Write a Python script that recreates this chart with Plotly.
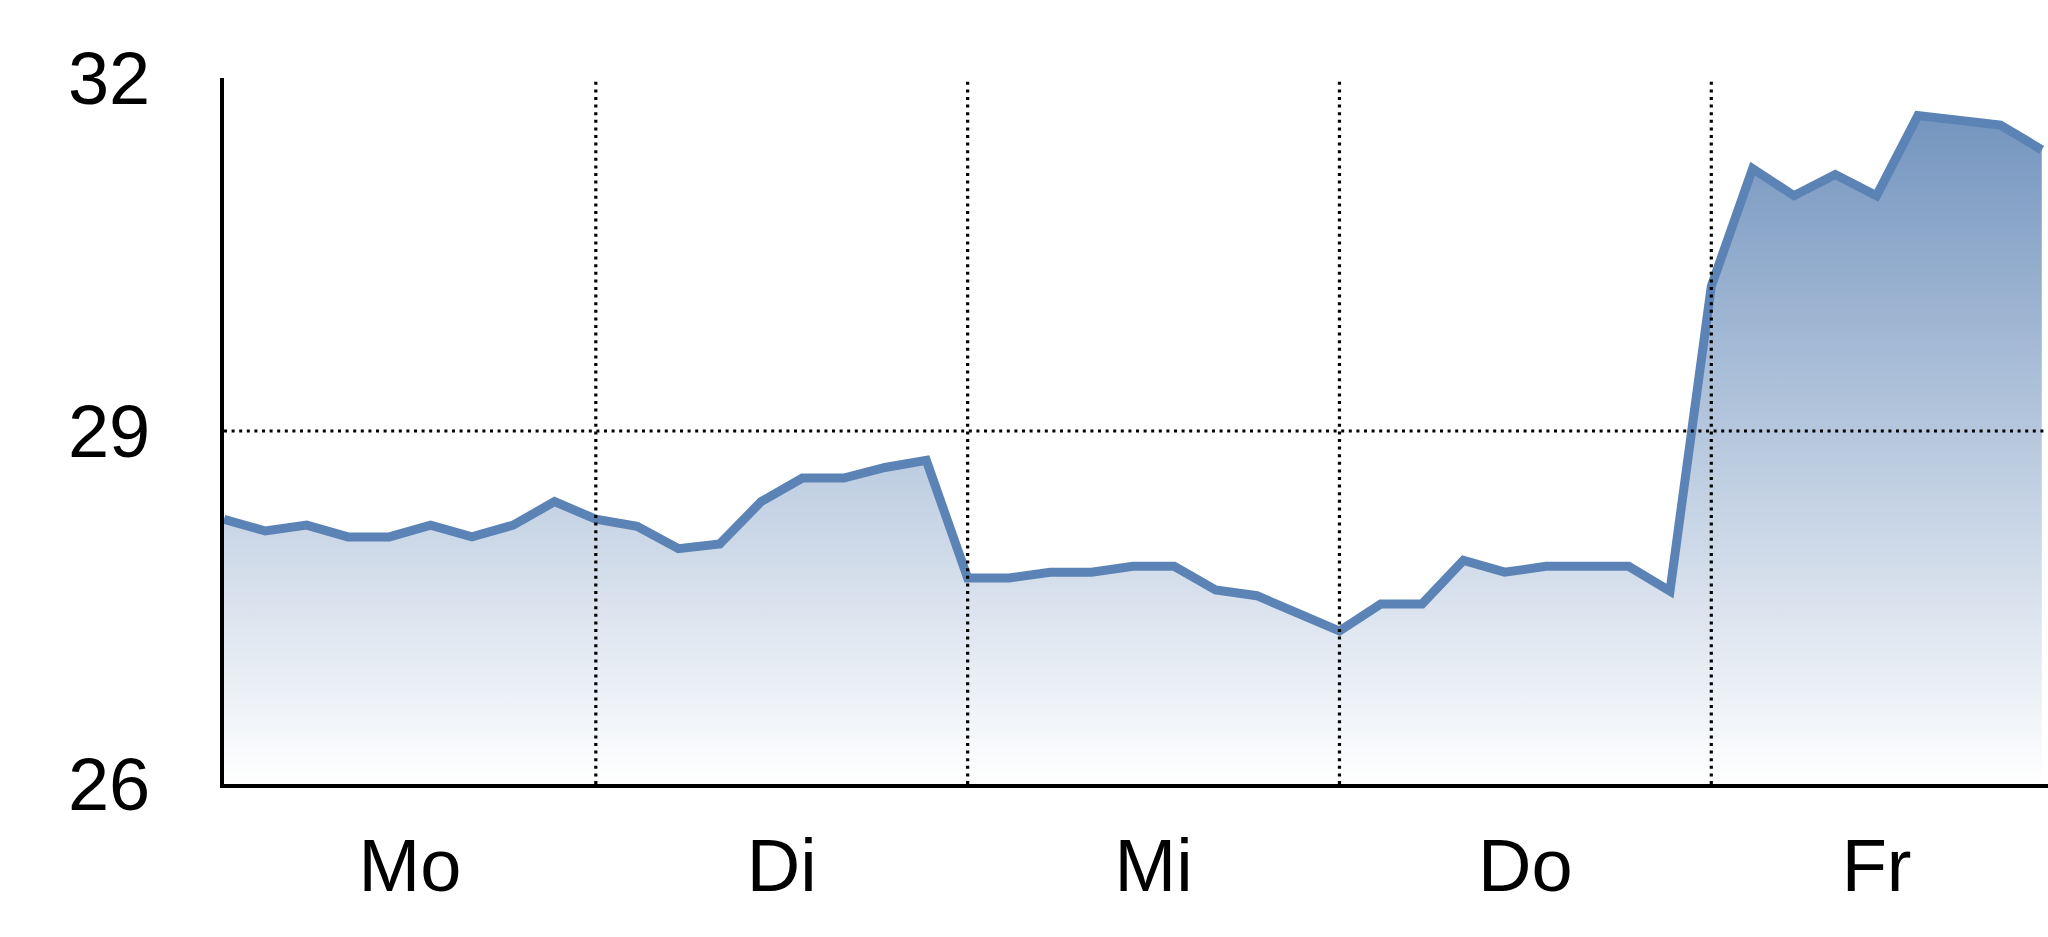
import plotly.graph_objects as go

# ---- data -------------------------------------------------------------
day_labels = ["Mo", "Di", "Mi", "Do", "Fr"]
day_bounds = [0, 9, 18, 27, 36, 44]          # sample index where each day starts / series ends
prices = [
    28.25, 28.15, 28.20, 28.10, 28.10, 28.20, 28.10, 28.20, 28.40,   # Mo
    28.25, 28.19, 28.00, 28.04, 28.40, 28.60, 28.60, 28.69, 28.75,   # Di
    27.75, 27.75, 27.80, 27.80, 27.85, 27.85, 27.65, 27.60, 27.45,   # Mi
    27.30, 27.53, 27.53, 27.90, 27.80, 27.85, 27.85, 27.85, 27.64,   # Do
    30.23, 31.23, 31.00, 31.18, 31.00, 31.68, 31.64, 31.60, 31.39,   # Fr
]
y_ticks = [26, 29, 32]
y_grid = [29]

# ---- derived ------------------------------------------------------------
x = list(range(len(prices)))
centers = [(a + b) / 2 for a, b in zip(day_bounds[:-1], day_bounds[1:])]
inner_bounds = day_bounds[1:-1]

FONT = "Liberation Sans, Arial, Helvetica, sans-serif"

fig = go.Figure()
fig.add_trace(go.Scatter(
    x=x, y=prices, mode="lines",
    line=dict(color="#5b83b5", width=9, shape="linear"),
    fill="tozeroy",
    fillgradient=dict(type="vertical",
                      colorscale=[[0, "rgba(255,255,255,1)"], [1, "rgb(108,143,187)"]],
                      start=26, stop=32),
    hoverinfo="skip", showlegend=False,
))

shapes = []
for b in inner_bounds:
    shapes.append(dict(type="line", xref="x", yref="paper", x0=b, x1=b, y0=0, y1=1,
                       line=dict(color="black", width=3.2, dash="3px,4.6px"), layer="above"))
for g in y_grid:
    shapes.append(dict(type="line", xref="paper", yref="y", x0=0, x1=1, y0=g, y1=g,
                       line=dict(color="black", width=3.2, dash="3px,4.6px"), layer="above"))

fig.update_layout(
    width=2048, height=937,
    margin=dict(l=224, r=0, t=78, b=153),
    paper_bgcolor="white", plot_bgcolor="white",
    font=dict(family=FONT, size=74, color="black"),
    shapes=shapes,
    hovermode=False,
    xaxis=dict(range=[0, 44.15], tickmode="array", tickvals=centers, ticktext=day_labels,
               showgrid=False, zeroline=False, showline=True, linecolor="black", linewidth=4,
               ticks="", ticklabelstandoff=14, fixedrange=True),
    yaxis=dict(range=[26, 32], tickmode="array", tickvals=y_ticks,
               showgrid=False, zeroline=False, showline=True, linecolor="black", linewidth=4,
               ticks="", ticklabelstandoff=55, fixedrange=True),
)

fig.write_html(
    "out.html",
    config={"displayModeBar": False},
    post_script="document.body.style.margin='0';document.body.style.overflow='hidden';",
)
